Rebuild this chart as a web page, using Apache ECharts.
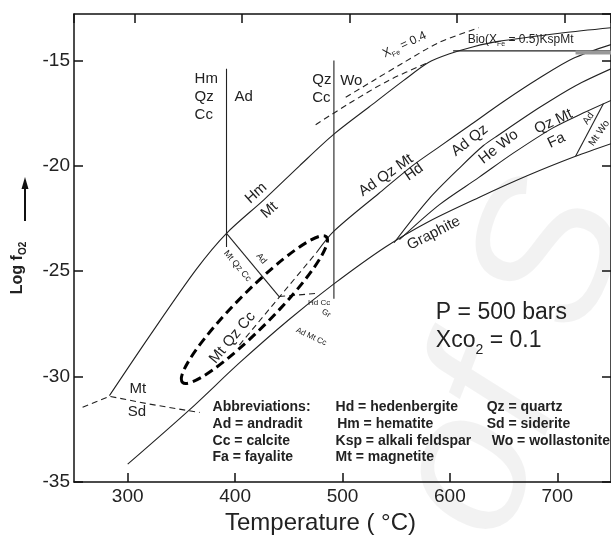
<!DOCTYPE html>
<html>
<head>
<meta charset="utf-8">
<title>Log fO2 vs Temperature</title>
<script src="https://cdn.jsdelivr.net/npm/echarts@6/dist/echarts.min.js"></script>
<style>
  html, body { margin: 0; padding: 0; background: #fff; }
  #main { width: 611px; height: 540px; }
</style>
</head>
<body>
<div id="main"></div>
<script>
// x = temperature (°C), y = log fO2
var xTicks = [300, 400, 500, 600, 700];
var yTicks = [-35, -30, -25, -20, -15];

// Hm / Mt buffer
var hmMt = [[283, -30.9], [320, -28.1], [364, -24.9], [392, -23.2], [427, -21.6], [460, -20.0],
  [492, -18.5], [525, -17.2], [557, -15.95], [580, -15.1], [599, -14.7], [622, -14.35],
  [645, -14.1], [704, -13.7], [750, -13.45]];
// Ad Qz Mt / Hd
var adQzMtHd = [[476, -24.1], [492, -23.1], [534, -21.3], [565, -20.0], [590, -19.1], [618, -18.1],
  [650, -16.95], [683, -15.85], [715, -14.9], [750, -14.25]];
var adQzMtHdDash = [[404, -28.5], [476, -24.1]];
// Ad Qz / He Wo
var adQzHeWo = [[548, -23.65], [580, -21.6], [611, -20.0], [631, -19.05], [645, -18.55],
  [683, -17.25], [717, -16.2], [750, -15.4]];
// Qz Mt / Fa
var qzMtFa = [[553, -23.5], [590, -21.85], [627, -20.55], [659, -19.4], [696, -18.2],
  [724, -17.5], [750, -16.9]];
// lower boundary and graphite
var graphite = [[300, -34.15], [358, -31.55], [404, -29.35], [450, -27.3], [492, -25.6],
  [540, -23.85], [580, -22.65], [627, -21.5], [673, -20.45], [717, -19.55], [750, -18.95]];
var adMtWo = [[717, -19.55], [743, -17.05]];
// vertical reactions
var hmQzCcAd = [[392, -15.4], [392, -23.85]];
var qzCcWo = [[492, -15.0], [492, -26.3]];
// Ad / Mt Qz Cc
var adMtQzCc = [[392, -23.2], [441, -26.2]];
var hdCcDash = [[441, -26.2], [476, -26.05]];
// Mt / Sd
var mtSd = [[258, -31.45], [283, -30.93], [320, -31.3], [367, -31.7]];
// biotite lines
var xFe04Low = [[475, -18.05], [506, -17.05], [543, -15.95], [580, -15.1]];
var xFe04High = [[503, -16.75], [529, -15.95], [557, -15.1], [590, -14.15], [627, -13.45]];
var bioKspMt = [[603, -14.55], [750, -14.55]];
var bioGrey = [[717, -14.62], [750, -14.62]];
// dashed ellipse, ends of the long axis
var ellipseTips = [[351, -30.27], [485, -23.37]];

// [x, y, text, rotate deg, size, align]
var labels = [
  [362.3, -16.75, 'Hm\nQz\nCc', 0, 15, 'left'],
  [399.4, -16.75, 'Ad', 0, 15, 'left'],
  [471.8, -16.35, 'Qz\nCc', 0, 15, 'left'],
  [497.8, -15.95, 'Wo', 0, 15, 'left'],
  [419.5, -21.3, 'Hm', 42, 15],
  [432, -22.1, 'Mt', 42, 15],
  [540.5, -20.45, 'Ad Qz Mt', 35, 15],
  [566.5, -20.3, 'Hd', 35, 15],
  [618.4, -18.8, 'Ad Qz', 38, 15],
  [645.4, -19.1, 'He Wo', 38, 15],
  [696.4, -17.9, 'Qz Mt', 25, 15],
  [699.2, -18.8, 'Fa', 25, 15],
  [729, -17.75, 'Ad', 55, 10],
  [739, -18.45, 'Mt Wo', 55, 10],
  [585, -23.2, 'Graphite', 27, 15],
  [397.6, -28.15, 'Mt Qz Cc', 50, 15],
  [402.2, -24.75, 'Mt Qz Cc', -50, 9],
  [424.5, -24.4, 'Ad', -50, 9],
  [478.3, -26.5, 'Hd Cc', 0, 8],
  [484.8, -27.0, 'Gr', -30, 8],
  [470.9, -28.1, 'Ad Mt Cc', -25, 8],
  [309.4, -30.6, 'Mt', 0, 15],
  [308.5, -31.65, 'Sd', 0, 15],
  [586.9, -26.95, 'P = 500 bars', 0, 23, 'left'],
  [586.9, -28.4, '{t|Xco}{s|2}{t| = 0.1}', 0, 23, 'left'],
  [558.1, -14.3, '{t|X}{s|Fe}{t| = 0.4}', 25, 12],
  [665.8, -14.05, '{t|Bio(X}{s|Fe}{t| = 0.5)KspMt}', 0, 12]
];

var abbrevs = [
  [379, -31.45, 'Abbreviations:'],
  [379, -32.25, 'Ad = andradit'],
  [379, -33.05, 'Cc = calcite'],
  [379, -33.8, 'Fa = fayalite'],
  [493.5, -31.45, 'Hd = hedenbergite'],
  [495, -32.25, 'Hm = hematite'],
  [493.5, -33.05, 'Ksp = alkali feldspar'],
  [493.5, -33.8, 'Mt = magnetite'],
  [634.2, -31.45, 'Qz = quartz'],
  [634.2, -32.25, 'Sd = siderite'],
  [638.9, -33.05, 'Wo = wollastonite']
];

var FONT = '"Liberation Sans", Arial, sans-serif';
var INK = '#222';

var chart = echarts.init(document.getElementById('main'));

function curve(data, dashed, smooth, color, width) {
  return {
    type: 'line',
    data: data,
    symbol: 'none',
    silent: true,
    smooth: smooth ? 0.3 : false,
    lineStyle: {
      color: color || INK,
      width: width || 1.1,
      type: dashed ? [6, 4] : 'solid'
    }
  };
}

function frameAxis(pos, min, max) {
  return {
    type: 'value',
    position: pos,
    min: min,
    max: max,
    splitNumber: 5,
    axisLine: { show: true, onZero: false, lineStyle: { color: '#111', width: 1.5 } },
    axisTick: { show: true, inside: true, length: 9, lineStyle: { color: '#111', width: 1.5 } },
    axisLabel: { show: false },
    splitLine: { show: false }
  };
}

var bottomAxis = frameAxis('bottom', 250, 750);
bottomAxis.axisLabel = {
  show: true, color: INK, fontSize: 19, fontFamily: FONT, margin: 5,
  showMinLabel: false, showMaxLabel: false,
  formatter: function (v) { return xTicks.indexOf(v) >= 0 ? String(v) : ''; }
};
bottomAxis.name = 'Temperature ( °C)';
bottomAxis.nameLocation = 'middle';
bottomAxis.nameGap = 27;
bottomAxis.nameTextStyle = { color: INK, fontSize: 24, fontFamily: FONT, padding: [0, 44, 0, 0] };

var leftAxis = frameAxis('left', -35, -12.8);
leftAxis.interval = 5;
leftAxis.axisLabel = {
  show: true, color: INK, fontSize: 19, fontFamily: FONT, margin: 4,
  showMaxLabel: false,
  formatter: function (v) { return yTicks.indexOf(v) >= 0 ? String(v) : ''; }
};
var rightAxis = frameAxis('right', -35, -12.8);
rightAxis.interval = 5;

chart.setOption({
  animation: false,
  backgroundColor: '#fff',
  grid: { left: 74, top: 14, right: -2, bottom: 57 },
  xAxis: [bottomAxis, frameAxis('top', 243.5, 743.5)],
  yAxis: [leftAxis, rightAxis],
  series: [
    curve(hmMt, false, true),
    curve(adQzMtHd, false, true),
    curve(adQzMtHdDash, true, false),
    curve(adQzHeWo, false, true),
    curve(qzMtFa, false, true),
    curve(graphite, false, true),
    curve(adMtWo, false, false),
    curve(hmQzCcAd, false, false),
    curve(qzCcWo, false, false),
    curve(adMtQzCc, false, false),
    curve(hdCcDash, true, false),
    curve(mtSd, true, false),
    curve(xFe04Low, true, true),
    curve(xFe04High, true, true),
    curve(bioKspMt, false, false),
    curve(bioGrey, false, false, '#999', 4)
  ]
});

function toPx(p) {
  return chart.convertToPixel({ xAxisIndex: 0, yAxisIndex: 0 }, p);
}

function textEl(x, y, text, rotDeg, size, align, bold) {
  return {
    type: 'text',
    x: x,
    y: y,
    rotation: (rotDeg || 0) * Math.PI / 180,
    silent: true,
    z: 20,
    style: {
      text: text,
      fontSize: size,
      fontFamily: FONT,
      fontWeight: bold ? 'bold' : 'normal',
      fill: INK,
      align: align || 'center',
      textAlign: align || 'center',
      verticalAlign: 'middle',
      textVerticalAlign: 'middle',
      lineHeight: Math.round(size * 1.17),
      rich: {
        t: { fontSize: size, fontFamily: FONT, fontWeight: bold ? 'bold' : 'normal', fill: INK,
          lineHeight: Math.round(size * 1.2), verticalAlign: 'top' },
        s: { fontSize: Math.round(size * 0.6), fontFamily: FONT, fontWeight: bold ? 'bold' : 'normal',
          fill: INK, lineHeight: Math.round(size * 0.6), verticalAlign: 'bottom' }
      }
    }
  };
}

var elements = [];

// faint watermark of the source page
elements.push({
  type: 'text', x: 515, y: 360, rotation: 1.2, silent: true, z: 0,
  style: {
    text: 'of S', fontSize: 200, fontStyle: 'italic', fontFamily: FONT,
    fill: 'rgba(0,0,0,0.05)', align: 'center', textAlign: 'center',
    verticalAlign: 'middle', textVerticalAlign: 'middle'
  }
});

labels.forEach(function (l) {
  var p = toPx([l[0], l[1]]);
  elements.push(textEl(p[0], p[1], l[2], l[3], l[4], l[5]));
});
abbrevs.forEach(function (a) {
  var p = toPx([a[0], a[1]]);
  elements.push(textEl(p[0], p[1], a[2], 0, 14, 'left', true));
});

// dashed ellipse around the Mt Qz Cc field
var e0 = toPx(ellipseTips[0]), e1 = toPx(ellipseTips[1]);
elements.push({
  type: 'ellipse',
  x: (e0[0] + e1[0]) / 2,
  y: (e0[1] + e1[1]) / 2,
  rotation: Math.atan2(e0[1] - e1[1], e1[0] - e0[0]),
  silent: true,
  z: 15,
  shape: { cx: 0, cy: 0, rx: Math.hypot(e1[0] - e0[0], e1[1] - e0[1]) / 2, ry: 18 },
  style: { fill: 'none', stroke: '#000', lineWidth: 3, lineDash: [9, 5] }
});

// y axis title with the arrow
elements.push(textEl(19, 268, '{t|Log f}{s|O2}', 90, 16, 'center', true));
elements.push({
  type: 'line', silent: true, z: 20,
  shape: { x1: 25, y1: 221, x2: 25, y2: 186 },
  style: { stroke: '#111', lineWidth: 2 }
});
elements.push({
  type: 'polygon', silent: true, z: 20,
  shape: { points: [[25, 177], [21.5, 189], [28.5, 189]] },
  style: { fill: '#111' }
});

chart.setOption({ graphic: { elements: elements } });
</script>
</body>
</html>
